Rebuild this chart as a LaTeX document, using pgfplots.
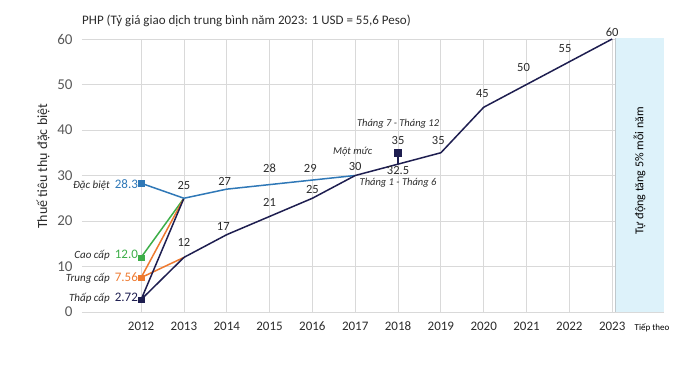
\documentclass[border=0pt]{standalone}
\usepackage{fontspec}
\setmainfont{Carlito}
\usepackage{pgfplots}
\pgfplotsset{compat=1.18}
\definecolor{navy}{HTML}{1E1E50}
\definecolor{sblue}{HTML}{2F78B7}
\definecolor{sgreen}{HTML}{3DAE49}
\definecolor{sorange}{HTML}{EE7A30}
\definecolor{txt}{HTML}{2B2B2B}
\definecolor{tick}{HTML}{595959}
\definecolor{gridc}{HTML}{D9D9D9}
\definecolor{boxc}{HTML}{DDF2FA}
\definecolor{boxl}{HTML}{C0C8CC}
\newcommand{\fs}[1]{\fontsize{#1}{#1}\selectfont}
\begin{document}
\begin{tikzpicture}[x=1pt,y=1pt]
\path[use as bounding box] (-82,-54) rectangle (618,312);
\begin{axis}[at={(0,0)}, anchor=south west, scale only axis,
  width=582pt, height=273pt,
  xmin=2010.62, xmax=2024.21, ymin=0, ymax=60,
  clip=false,
  axis line style={draw=none}, tick style={draw=none},
  grid=major, grid style={color=gridc, line width=0.8pt},
  xtick={2012,2013,...,2023}, ytick={0,10,...,60},
  /pgf/number format/assume math mode=true,
  /pgf/number format/1000 sep={},
  xticklabel style={font=\fs{13}, text=txt, anchor=base, yshift=-19pt},
  yticklabel style={font=\fs{15}, text=tick, xshift=-6pt},
]
% box
\fill[boxc] (axis cs:2023.07,0) rectangle (axis cs:2024.21,60.2);
\draw[boxl, line width=1.3pt] (axis cs:2023.07,0) -- (axis cs:2023.07,60.2);
\node[rotate=90, font=\fs{12}, text=black] at (axis cs:2023.64,31) {Tự động tăng 5\% mỗi năm};
\node[font=\fs{9}, text=black] at (axis cs:2023.93,-3.4) {Tiếp theo};

% connectors
\addplot[sgreen, line width=1.5pt] coordinates {(2012,12.0) (2013,25)};
\addplot[sorange, line width=1.5pt] coordinates {(2013,25) (2012,7.56) (2013,12)};
\addplot[navy, line width=1.5pt] coordinates {(2013,25) (2012,2.72) (2013,12)};
\addplot[sblue, line width=1.5pt] coordinates {(2012,28.3) (2013,25) (2014,27) (2015,28) (2016,29) (2017,30)};
\addplot[navy, line width=1.5pt] coordinates {(2013,12) (2014,17) (2015,21) (2016,25) (2017,30) (2018,32.5) (2019,35) (2020,45) (2021,50) (2022,55) (2023,60)};
% 2018 split
\addplot[navy, line width=2pt, mark=square*, mark size=3.2pt, mark indices={2}] coordinates {(2018,32.5) (2018,35)};
% 2012 markers
\addplot[only marks, mark=square*, mark size=2.6pt, sblue] coordinates {(2012,28.3)};
\addplot[only marks, mark=square*, mark size=2.6pt, sgreen] coordinates {(2012,12.0)};
\addplot[only marks, mark=square*, mark size=2.6pt, sorange] coordinates {(2012,7.56)};
\addplot[only marks, mark=square*, mark size=2.6pt, navy] coordinates {(2012,2.72)};

% left labels
\node[anchor=east, xshift=-3pt, inner sep=0pt, font=\fs{13}] at (axis cs:2012,28.0) {\textcolor{txt}{\fs{11}\itshape Đặc biệt}\, \textcolor{sblue}{28.3}};
\node[anchor=east, xshift=-3pt, inner sep=0pt, font=\fs{13}] at (axis cs:2012,12.4) {\textcolor{txt}{\fs{11}\itshape Cao cấp}\, \textcolor{sgreen}{12.0}};
\node[anchor=east, xshift=-3pt, inner sep=0pt, font=\fs{13}] at (axis cs:2012,7.5) {\textcolor{txt}{\fs{11}\itshape Trung cấp}\, \textcolor{sorange}{7.56}};
\node[anchor=east, xshift=-3pt, inner sep=0pt, font=\fs{13}] at (axis cs:2012,3.1) {\textcolor{txt}{\fs{11}\itshape Thấp cấp}\, \textcolor{navy}{2.72}};

% value labels
\begin{scope}[every node/.style={font=\fs{12.5}, text=txt, inner sep=0pt}]
\node at (axis cs:2013,27.9) {25};
\node at (axis cs:2013,15.2) {12};
\node at (axis cs:2013.92,18.7) {17};
\node at (axis cs:2013.95,28.6) {27};
\node at (axis cs:2015,31.6) {28};
\node at (axis cs:2015,24.0) {21};
\node at (axis cs:2015.95,31.6) {29};
\node at (axis cs:2016,27.0) {25};
\node at (axis cs:2017,31.9) {30};
\node at (axis cs:2018,37.6) {35};
\node at (axis cs:2018,31.0) {32.5};
\node at (axis cs:2018.94,37.8) {35};
\node at (axis cs:2019.97,48.1) {45};
\node at (axis cs:2020.93,53.8) {50};
\node at (axis cs:2021.9,58.0) {55};
\node at (axis cs:2023,61.5) {60};
\end{scope}
\begin{scope}[every node/.style={font=\fs{10.5}\itshape, text=txt, inner sep=0pt}]
\node at (axis cs:2016.94,35.2) {Một mức};
\node at (axis cs:2018,41.3) {Tháng 7 - Tháng 12};
\node at (axis cs:2018,28.4) {Tháng 1 - Tháng 6};
\end{scope}

% title and y label
\node[anchor=base west, inner sep=0pt, font=\fs{13}, text=txt] at (axis cs:2010.62,60) [yshift=15pt] {PHP (Tỷ giá giao dịch trung bình năm 2023: 1 USD = 55,6 Peso)};
\node[xshift=-39pt, rotate=90, inner sep=0pt, font=\fs{14}, text=txt] at (axis cs:2010.62,32) {Thuế tiêu thụ đặc biệt};
\end{axis}
\end{tikzpicture}
\end{document}
